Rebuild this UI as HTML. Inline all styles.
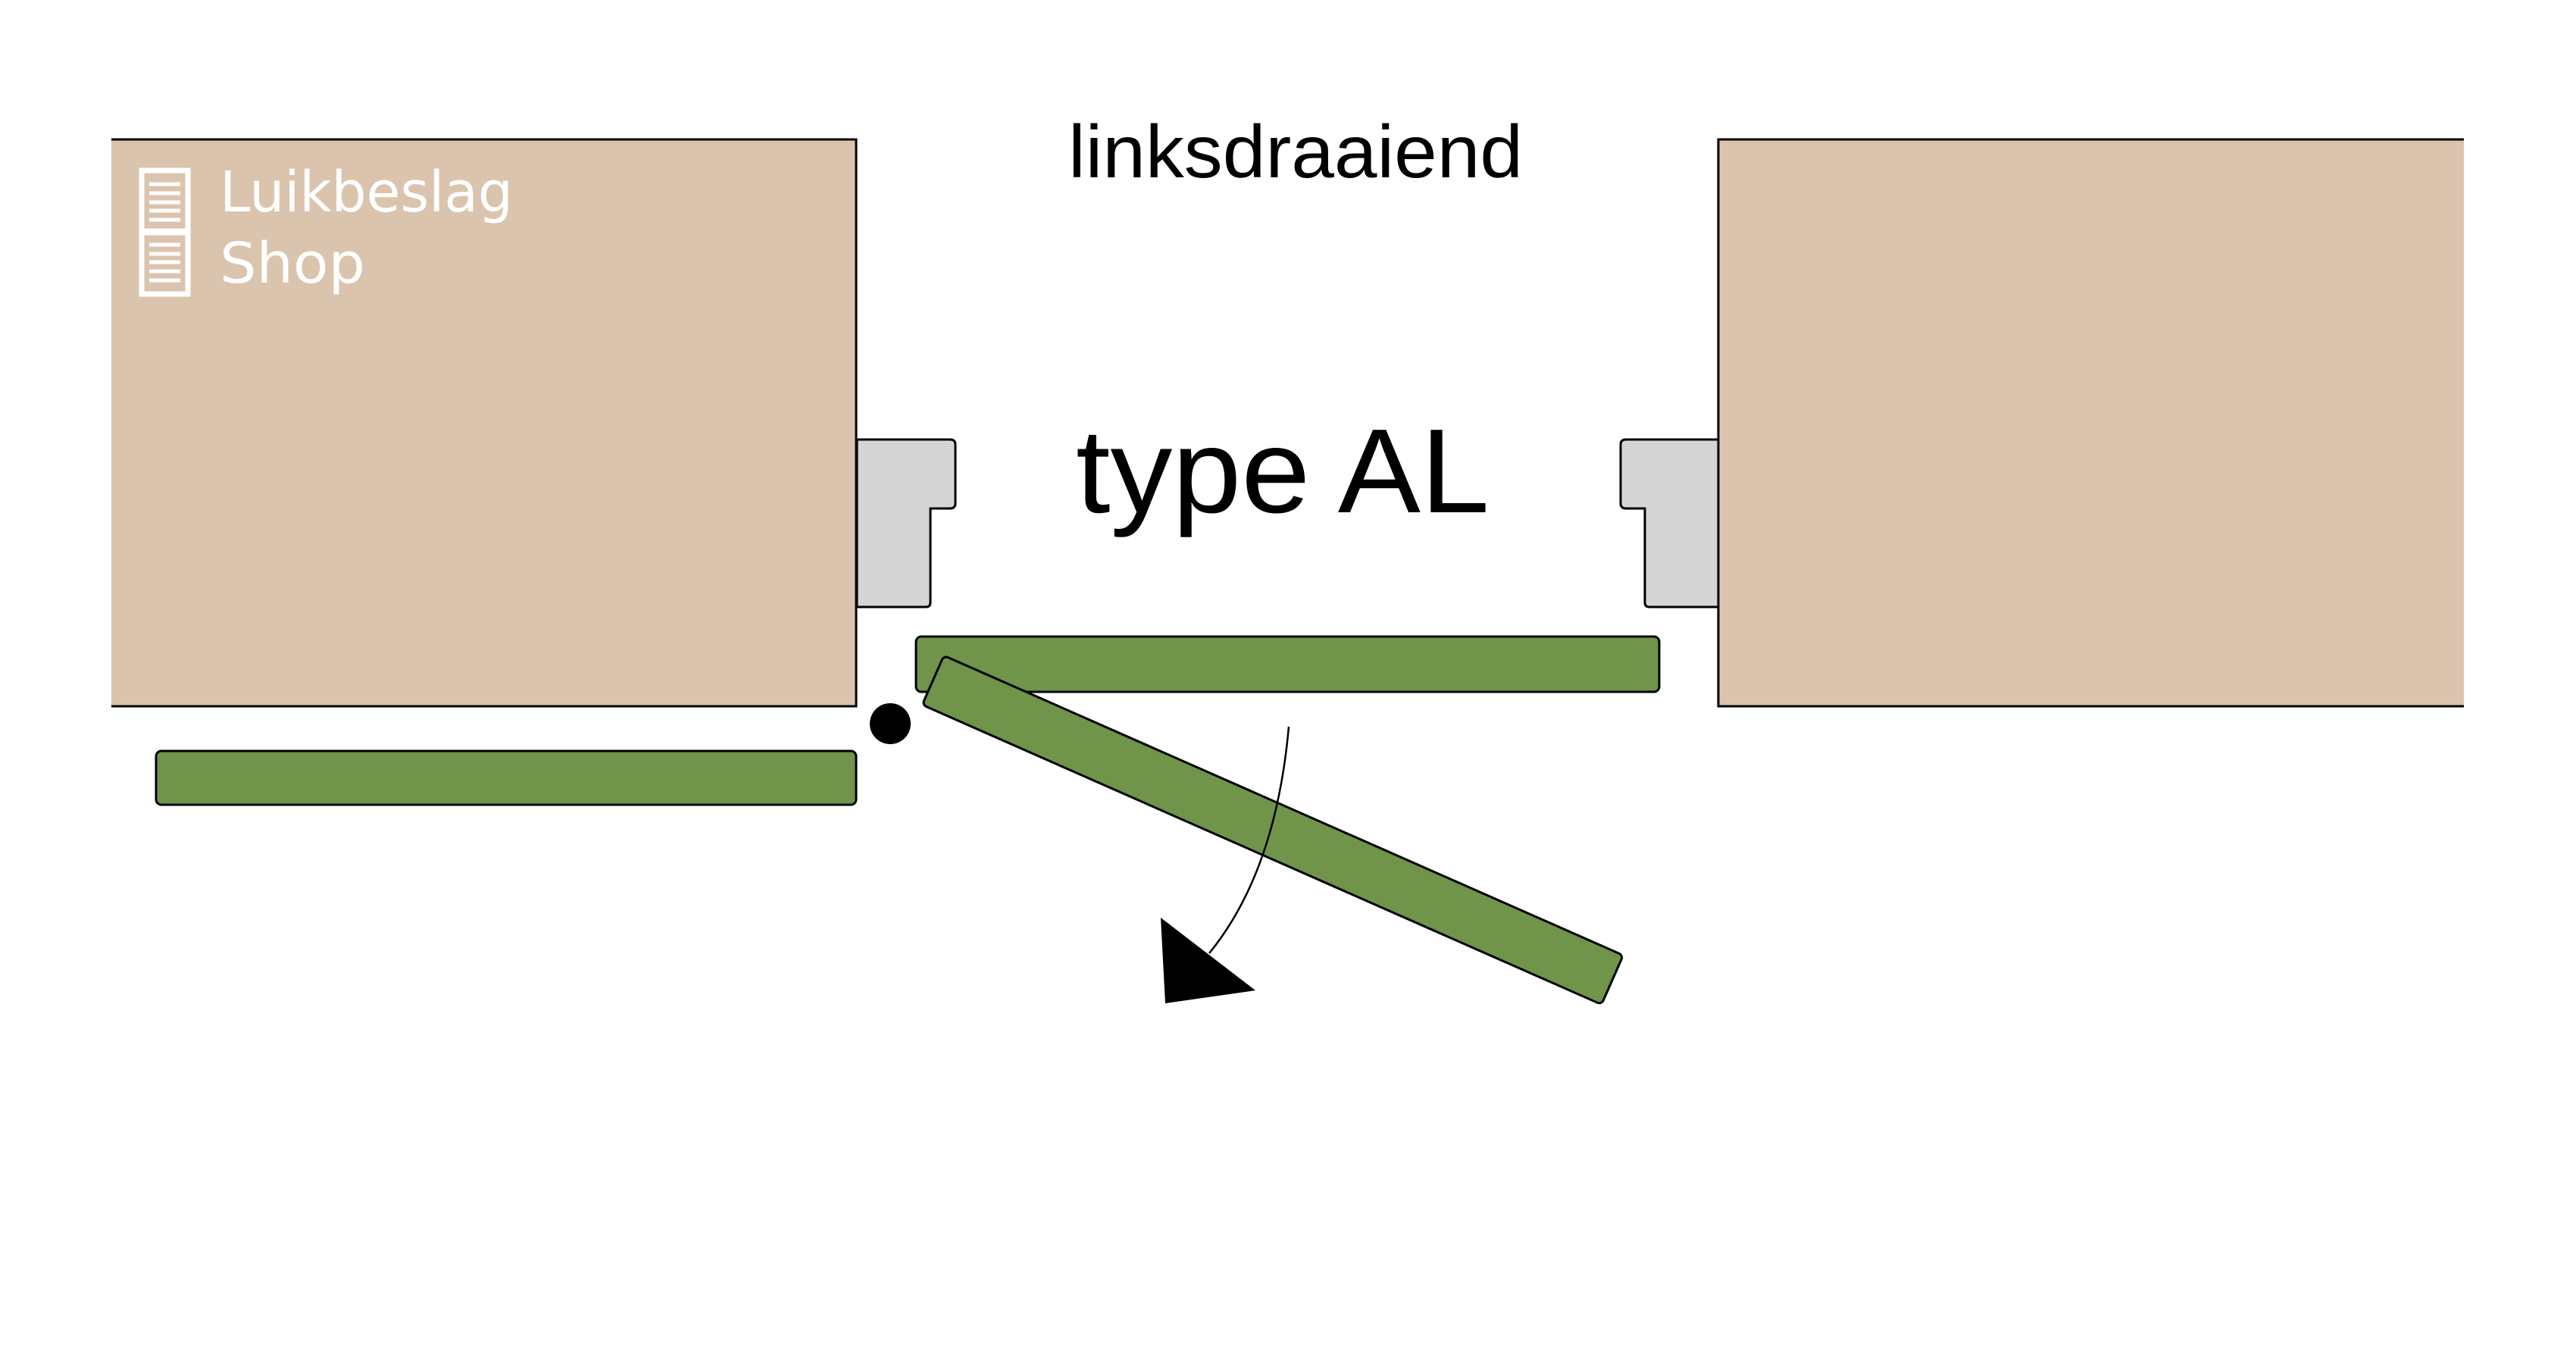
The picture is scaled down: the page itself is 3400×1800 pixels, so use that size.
<!DOCTYPE html>
<html><head><meta charset="utf-8"><style>
html,body{margin:0;padding:0;background:#fff;}
svg{display:block;}
</style></head><body>
<svg width="3400" height="1800" viewBox="0 0 3400 1800" xmlns="http://www.w3.org/2000/svg">
<rect x="0" y="0" width="3400" height="1800" fill="#fff"/>
<rect x="147" y="184" width="983" height="748" fill="#dbc4ad"/>
<polyline points="147,184 1130,184 1130,932 147,932" fill="none" stroke="#000" stroke-width="3"/>
<rect x="2268" y="184" width="984" height="748" fill="#dbc4ad"/>
<polyline points="3252,184 2268,184 2268,932 3252,932" fill="none" stroke="#000" stroke-width="3"/>
<path d="M1131,580 L1254,580 Q1261,580 1261,587 L1261,664 Q1261,671 1254,671 L1228,671 L1228,795 Q1228,801 1222,801 L1131,801 Z" fill="#d5d5d5" stroke="#000" stroke-width="3"/>
<path d="M2268,580 L2146,580 Q2139,580 2139,587 L2139,664 Q2139,671 2146,671 L2171,671 L2171,795 Q2171,801 2177,801 L2268,801 Z" fill="#d5d5d5" stroke="#000" stroke-width="3"/>
<rect x="1209" y="840" width="981" height="73" rx="7" fill="#6f944a" stroke="#000" stroke-width="3"/>
<rect x="206" y="991" width="924" height="71" rx="7" fill="#6f944a" stroke="#000" stroke-width="3"/>
<g transform="translate(1245,867) rotate(23.8)">
<rect x="0" y="-2" width="980" height="71" rx="6" fill="#6f944a" stroke="#000" stroke-width="3"/>
</g>
<circle cx="1175" cy="955" r="27" fill="#000"/>
<path d="M1701,959 Q1684,1150 1596,1258" fill="none" stroke="#000" stroke-width="2.5"/>
<polygon points="1532,1211 1657,1307 1538,1324" fill="#000"/>
<text x="1410" y="234" font-family="Liberation Sans, sans-serif" font-size="98" fill="#000" textLength="600" lengthAdjust="spacingAndGlyphs">linksdraaiend</text>
<text x="1420" y="676" font-family="Liberation Sans, sans-serif" font-size="158" fill="#000" textLength="546" lengthAdjust="spacingAndGlyphs">type AL</text>
<rect x="187" y="225" width="61" height="163" fill="none" stroke="#fff" stroke-width="7"/>
<line x1="187" y1="306" x2="248" y2="306" stroke="#fff" stroke-width="9"/>
<g stroke="#fff" stroke-width="5">
<line x1="197" y1="243" x2="238" y2="243"/><line x1="197" y1="255" x2="238" y2="255"/><line x1="197" y1="267" x2="238" y2="267"/><line x1="197" y1="278" x2="238" y2="278"/><line x1="197" y1="290" x2="238" y2="290"/>
<line x1="197" y1="323" x2="238" y2="323"/><line x1="197" y1="335" x2="238" y2="335"/><line x1="197" y1="346" x2="238" y2="346"/><line x1="197" y1="358" x2="238" y2="358"/><line x1="197" y1="370" x2="238" y2="370"/>
</g>
<text x="290" y="279" font-family="DejaVu Sans, sans-serif" font-size="74" fill="#fff" textLength="387" lengthAdjust="spacingAndGlyphs">Luikbeslag</text>
<text x="290" y="373" font-family="DejaVu Sans, sans-serif" font-size="74" fill="#fff" textLength="192" lengthAdjust="spacingAndGlyphs">Shop</text>
</svg>
</body></html>
